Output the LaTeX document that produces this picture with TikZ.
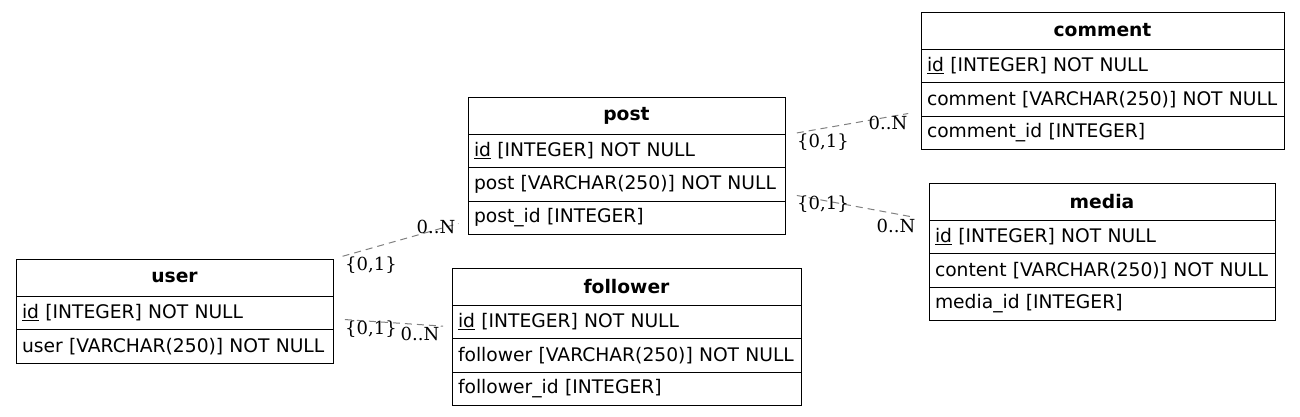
\documentclass[tikz,border=0pt]{standalone}
\usepackage{fontspec}
\setmainfont{DejaVu Serif}
\setsansfont{DejaVu Sans}
\usetikzlibrary{positioning}

\tikzset{
  tablehead/.style={draw, line width=1pt, inner xsep=6pt, inner ysep=0pt, outer sep=0pt,
    minimum height=37pt, text width=#1, align=center,
    font=\sffamily\bfseries\fontsize{18.7}{22}\selectfont},
  tablerow/.style={draw, line width=1pt, inner xsep=6pt, inner ysep=0pt, outer sep=0pt,
    minimum height=33.5pt, text width=#1, align=left,
    font=\sffamily\fontsize{18.7}{22}\selectfont},
  relation/.style={draw=gray, line width=1pt, dash pattern=on 7pt off 5pt},
  card/.style={inner sep=0pt, font=\fontsize{18}{21}\selectfont}
}

\begin{document}
\begin{tikzpicture}[x=1pt, y=-1pt]
    \useasboundingbox (0,0) rectangle (1300,416);

    % user
    \node[tablehead=305pt, anchor=north west] (user) at (16,259) {user};
    \node[tablerow=305pt, below=0pt of user] (user-id) {\underline{id} [INTEGER] NOT NULL};
    \node[tablerow=305pt, below=0pt of user-id] (user-name) {user [VARCHAR(250)] NOT NULL};

    % post
    \node[tablehead=305pt, anchor=north west] (post) at (468,97) {post};
    \node[tablerow=305pt, below=0pt of post] (post-id) {\underline{id} [INTEGER] NOT NULL};
    \node[tablerow=305pt, below=0pt of post-id] (post-text) {post [VARCHAR(250)] NOT NULL};
    \node[tablerow=305pt, below=0pt of post-text] (post-pid) {post\_id [INTEGER]};

    % follower
    \node[tablehead=337pt, anchor=north west] (follower) at (452,268) {follower};
    \node[tablerow=337pt, below=0pt of follower] (follower-id) {\underline{id} [INTEGER] NOT NULL};
    \node[tablerow=337pt, below=0pt of follower-id] (follower-name) {follower [VARCHAR(250)] NOT NULL};
    \node[tablerow=337pt, below=0pt of follower-name] (follower-fid) {follower\_id [INTEGER]};

    % comment
    \node[tablehead=351pt, anchor=north west] (comment) at (921,12) {comment};
    \node[tablerow=351pt, below=0pt of comment] (comment-id) {\underline{id} [INTEGER] NOT NULL};
    \node[tablerow=351pt, below=0pt of comment-id] (comment-text) {comment [VARCHAR(250)] NOT NULL};
    \node[tablerow=351pt, below=0pt of comment-text] (comment-cid) {comment\_id [INTEGER]};

    % media
    \node[tablehead=334pt, anchor=north west] (media) at (929,183) {media};
    \node[tablerow=334pt, below=0pt of media] (media-id) {\underline{id} [INTEGER] NOT NULL};
    \node[tablerow=334pt, below=0pt of media-id] (media-content) {content [VARCHAR(250)] NOT NULL};
    \node[tablerow=334pt, below=0pt of media-content] (media-mid) {media\_id [INTEGER]};

    % relations
    \draw[relation, shorten <=10pt, shorten >=10pt] (user.north east) -- ([yshift=-3pt]post-pid.west);
    \draw[relation, shorten <=12pt, shorten >=9pt] ([yshift=-6pt]user-id.east) -- ([yshift=-5pt]follower-id.west);
    \draw[relation, shorten <=12pt, shorten >=13pt] ([yshift=-1pt]post.south east) -- ([yshift=-12pt]comment-text.west);
    \draw[relation, shorten <=12pt, shorten >=16pt] ([yshift=-9pt]post-text.east) -- (media.south west);

    % cardinalities
    \node[card] (up-tail) at (371,265) {\{0,1\}};
    \node[card] (up-head) at (436,227) {0..N};
    \node[card] (uf-tail) at (371,329) {\{0,1\}};
    \node[card] (uf-head) at (420,334) {0..N};
    \node[card] (pc-tail) at (823,142) {\{0,1\}};
    \node[card] (pc-head) at (888,123) {0..N};
    \node[card] (pm-tail) at (823,204) {\{0,1\}};
    \node[card] (pm-head) at (896,226) {0..N};
\end{tikzpicture}
\end{document}
